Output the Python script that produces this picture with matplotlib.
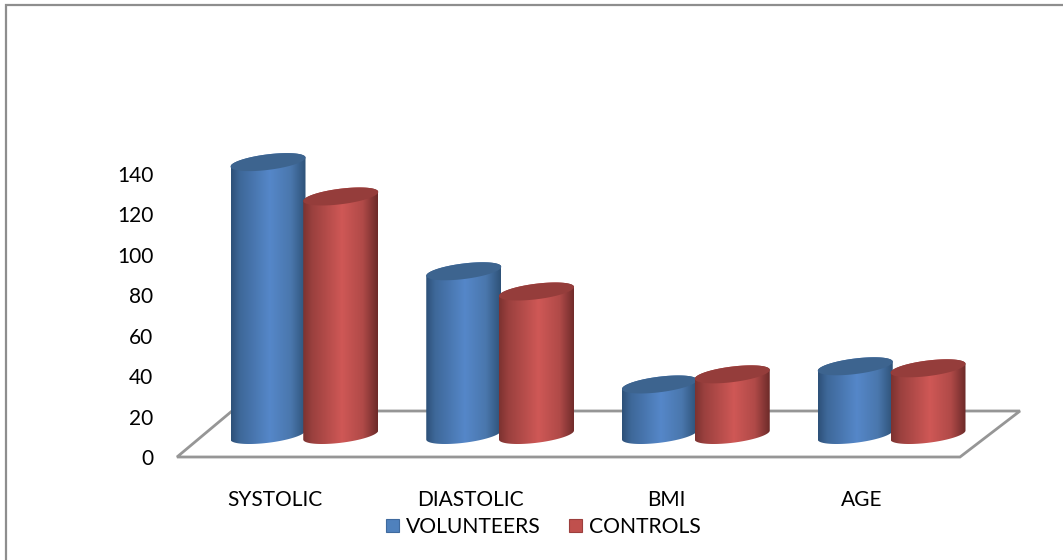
import numpy as np
import matplotlib
matplotlib.use("Agg")
import matplotlib.pyplot as plt
from matplotlib.colors import LinearSegmentedColormap
from matplotlib.patches import Patch, PathPatch, Polygon, Rectangle
from matplotlib.path import Path

categories = ["SYSTOLIC", "DIASTOLIC", "BMI", "AGE"]
volunteers = [135, 81, 25, 34]
controls = [118, 71, 30, 33]
y_ticks = [0, 20, 40, 60, 80, 100, 120, 140]
series_names = ["VOLUNTEERS", "CONTROLS"]

W, H = 1063, 560
plt.rcParams["font.family"] = ["Lato", "DejaVu Sans"]
fig = plt.figure(figsize=(W / 100, H / 100), dpi=100, facecolor="white")

# Plot box: front edge of the floor spans the category axis
left, right, bottom, top = 177, 960, 457, 174
ax = fig.add_axes([left / W, 1 - bottom / H, (right - left) / W, (bottom - top) / H])
ax.set_facecolor("none")
for s in ax.spines.values():
    s.set_visible(False)

px_x = (right - left) / len(categories)
px_y = (bottom - top) / 140

# Chart-area frame, open towards the right and bottom
fig.add_artist(Rectangle((6 / W, -0.1), 1.2, 1.1 - 5 / H, transform=fig.transFigure,
                         fill=False, ec="#8e8e8e", lw=1.6))

# Perspective floor
depth_x, depth_y = 60 / px_x, 46 / px_y
n = len(categories)
ax.add_patch(Polygon([(0, 0), (n, 0), (n + depth_x, depth_y), (depth_x - 5 / px_x, depth_y)],
                     closed=True, fill=False, ec="#969696", lw=2.0, zorder=1, clip_on=False))

# Cylinder geometry, in data units
half_w = 37.5 / px_x
shear = 4.5 / px_y
minor = 7.8 / px_y
base_level = 22 / px_y
group_shift = 29.5 / px_x

blue_cmap = LinearSegmentedColormap.from_list(
    "cyl_blue", [(0, "#2d5078"), (0.12, "#3e6899"), (0.52, "#5587c9"),
                 (0.8, "#4a77ad"), (1, "#2e5278")])
red_cmap = LinearSegmentedColormap.from_list(
    "cyl_red", [(0, "#7c3230"), (0.12, "#9a403e"), (0.52, "#cf5856"),
                (0.8, "#b04a48"), (1, "#6c2a29")])
ramp = np.linspace(0, 1, 256)[None, :]


def cylinder(cx, value, cmap, cap_color, z):
    y0, y1 = base_level, base_level + value
    t_low = np.linspace(np.pi, 2 * np.pi, 60)
    t_up = np.linspace(0, np.pi, 60)
    xs_low = cx + half_w * np.cos(t_low)
    ys_low = y0 + minor * np.sin(t_low) + shear * np.cos(t_low)
    xs_up = cx + half_w * np.cos(t_up)
    ys_up = y1 + minor * np.sin(t_up) + shear * np.cos(t_up)
    outline = np.column_stack([np.r_[xs_low, xs_up], np.r_[ys_low, ys_up]])
    body = PathPatch(Path(np.vstack([outline, outline[0]])), transform=ax.transData,
                     fc="none", ec="none")
    ax.add_patch(body)
    img = ax.imshow(ramp, cmap=cmap, aspect="auto", interpolation="bilinear",
                    extent=(cx - half_w, cx + half_w, y0 - 20, y1 + 20), zorder=z)
    img.set_clip_path(body)
    # The cylinders rise past the plot box, so only the outline may crop them
    img.set_clip_box(fig.bbox)
    t = np.linspace(0, 2 * np.pi, 120)
    ax.fill(cx + half_w * np.cos(t), y1 + minor * np.sin(t) + shear * np.cos(t),
            color=cap_color, lw=0, zorder=z + 0.1, clip_on=False)


for i in range(n):
    centre = i + 0.5 + group_shift
    cylinder(centre - half_w * 0.97, volunteers[i], blue_cmap, "#3d648f", 3 + i)
    cylinder(centre + half_w * 0.97, controls[i], red_cmap, "#953d3b", 3.5 + i)

ax.set_xlim(0, n)
ax.set_ylim(0, 140)
ax.set_xticks(np.arange(n) + 0.5, categories)
ax.set_yticks(y_ticks)
ax.tick_params(axis="x", length=0, pad=24, labelsize=15)
ax.tick_params(axis="y", length=0, pad=17, labelsize=15)
for lbl in ax.get_xticklabels() + ax.get_yticklabels():
    lbl.set_color("black")

handles = [Patch(fc="#4f81bd", ec="#3f6a9e", lw=0.8), Patch(fc="#c0504d", ec="#9c3f3d", lw=0.8)]
fig.legend(handles, series_names, loc="center", bbox_to_anchor=(543.5 / W, 1 - 527 / H),
           ncol=2, frameon=False, fontsize=15.2, handlelength=0.62, handleheight=0.62,
           handletextpad=0.33, columnspacing=1.33, borderpad=0)

fig.savefig("out.png", dpi=100, facecolor="white")
